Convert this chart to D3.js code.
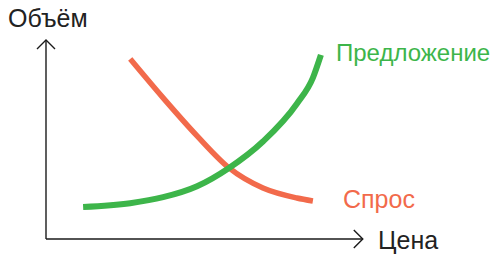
<!DOCTYPE html>
<html lang="ru">
<head>
    <meta charset="UTF-8">
    <title>Спрос и предложение</title>
    <style>
        body { margin: 0; background: #fff; }
        svg { display: block; }
        text { font-family: "Liberation Sans", Arial, sans-serif; font-size: 25px; }
        text.small { font-size: 24px; }
    </style>
</head>
<body>
    <script src="https://cdnjs.cloudflare.com/ajax/libs/d3/7.8.2/d3.min.js"></script>
    <script>

        // цена (ось x) и объём (ось y), условные единицы 0..100
        const supplyPrice  = [11.6, 26.3, 36.6, 47.2, 57.2, 67.8, 78.4, 83.4, 85.9]
        const supplyVolume = [16.1, 18.0, 21.0, 26.5, 35.7, 49.0, 68.0, 81.0, 92.5]

        const demandPrice  = [26.3, 36.6, 47.2, 57.2, 67.8, 78.4, 83.4]
        const demandVolume = [90.5, 70.9, 51.8, 35.7, 25.6, 20.6, 19.1]

        const labels = ["Объём", "Цена", "Предложение", "Спрос"]

        const w = 496
        const h = 257

        const svg = d3.select("body")
            .append("svg")
                .attr("width", w)
                .attr("height", h)

        const x = d3.scaleLinear().domain([0, 100]).range([46, 366])
        const y = d3.scaleLinear().domain([0, 100]).range([239, 40])

        // оси со стрелками
        const axis = svg.append("g")
            .attr("fill", "none")
            .attr("stroke", "#1a1a1a")
            .attr("stroke-width", 1.4)

        axis.append("line")
            .attr("x1", x(0)).attr("y1", y(0))
            .attr("x2", x(0)).attr("y2", y(100))
        axis.append("path")
            .attr("d", `M${x(0) - 9},${y(100) + 9} L${x(0)},${y(100)} L${x(0) + 9},${y(100) + 9}`)

        axis.append("line")
            .attr("x1", x(0)).attr("y1", y(0))
            .attr("x2", x(99)).attr("y2", y(0))
        axis.append("path")
            .attr("d", `M${x(99) - 9},${y(0) - 9} L${x(99)},${y(0)} L${x(99) - 9},${y(0) + 9}`)

        const line = d3.line()
            .x(d => x(d[0]))
            .y(d => y(d[1]))
            .curve(d3.curveMonotoneX)

        const green = "#3db54a"
        const red = "#f26a4b"

        svg.append("path")
            .datum(demandPrice.map((p, i) => [p, demandVolume[i]]))
            .attr("d", line)
            .attr("fill", "none")
            .attr("stroke", red)
            .attr("stroke-width", 5.5)

        svg.append("path")
            .datum(supplyPrice.map((p, i) => [p, supplyVolume[i]]))
            .attr("d", line)
            .attr("fill", "none")
            .attr("stroke", green)
            .attr("stroke-width", 6)

        // подписи
        svg.append("text").attr("x", 8).attr("y", 27).attr("fill", "#222").text(labels[0])
        svg.append("text").attr("x", 378).attr("y", 249).attr("fill", "#222").text(labels[1])
        svg.append("text").attr("class", "small").attr("x", 336).attr("y", 61).attr("fill", green).text(labels[2])
        svg.append("text").attr("x", 343).attr("y", 208).attr("fill", red).text(labels[3])

    </script>
</body>
</html>
